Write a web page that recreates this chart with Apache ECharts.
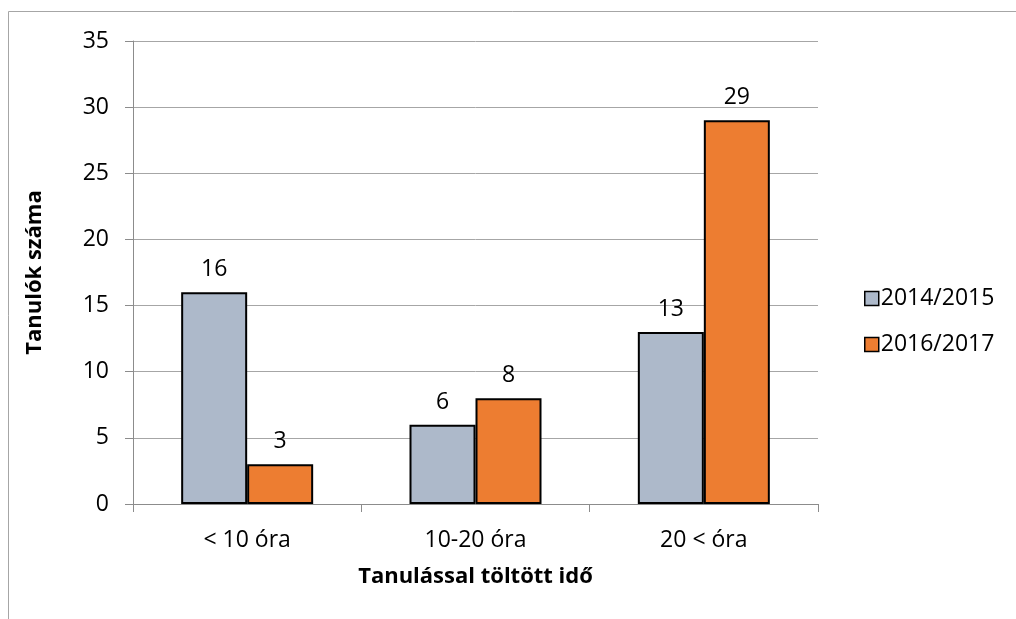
<!DOCTYPE html>
<html>
<head>
<meta charset="utf-8">
<script src="https://cdn.jsdelivr.net/npm/echarts@6/dist/echarts.min.js"></script>
<style>
  html, body { margin: 0; padding: 0; background: #fff; }
  #chart { width: 1016px; height: 619px; }
</style>
</head>
<body>
<div id="chart"></div>
<script>
// kategóriák és adatok
var categories = ['< 10 óra', '10-20 óra', '20 < óra'];
var seriesNames = ['2014/2015', '2016/2017'];
var values1415 = [16, 6, 13];
var values1617 = [3, 8, 29];
var colors = ['#adb9ca', '#ed7d31'];

var font = 'Open Sans';

var chart = echarts.init(document.getElementById('chart'));

var option = {
    animation: false,
    backgroundColor: '#fff',
    color: colors,
    textStyle: { fontFamily: font },
    graphic: [{
        type: 'rect',
        shape: { x: 8.5, y: 11.5, width: 1040, height: 640 },
        style: { fill: 'none', stroke: '#a6a6a6', lineWidth: 1 },
        silent: true
    }],
    grid: {
        left: 133,
        right: 198,
        top: 41,
        bottom: 115
    },
    legend: {
        orient: 'vertical',
        left: 859,
        top: 282,
        icon: 'rect',
        itemWidth: 14,
        itemHeight: 14,
        itemGap: 23,
        data: seriesNames,
        itemStyle: { borderColor: '#000', borderWidth: 1.5 },
        textStyle: { fontFamily: font, fontSize: 23, color: '#000', padding: [0, 0, 0, -3] }
    },
    xAxis: {
        type: 'category',
        data: categories,
        name: 'Tanulással töltött idő',
        nameLocation: 'middle',
        nameGap: 62,
        nameTextStyle: { fontFamily: font, fontSize: 22, fontWeight: 'bold', color: '#000' },
        axisLine: { lineStyle: { color: '#8c8c8c', width: 1 } },
        axisTick: { show: true, length: 8, lineStyle: { color: '#8c8c8c' } },
        axisLabel: { fontFamily: font, fontSize: 23, color: '#000', margin: 25 }
    },
    yAxis: {
        type: 'value',
        min: 0,
        max: 35,
        interval: 5,
        name: 'Tanulók száma',
        nameLocation: 'middle',
        nameGap: 87,
        nameTextStyle: { fontFamily: font, fontSize: 22, fontWeight: 'bold', color: '#000' },
        axisLine: { show: true, lineStyle: { color: '#8c8c8c', width: 1 } },
        axisTick: { show: true, length: 8, lineStyle: { color: '#8c8c8c' } },
        axisLabel: { fontFamily: font, fontSize: 23, color: '#000', margin: 24 },
        splitLine: { lineStyle: { color: '#a6a6a6', width: 1 } }
    },
    series: [{
        name: seriesNames[0],
        type: 'bar',
        data: values1415,
        barWidth: 66,
        barGap: '0%',
        itemStyle: { color: colors[0], borderColor: '#000', borderWidth: 2 },
        label: { show: true, position: 'top', distance: 11, fontFamily: font, fontSize: 23, color: '#000' }
    }, {
        name: seriesNames[1],
        type: 'bar',
        data: values1617,
        barWidth: 66,
        barGap: '0%',
        itemStyle: { color: colors[1], borderColor: '#000', borderWidth: 2 },
        label: { show: true, position: 'top', distance: 11, fontFamily: font, fontSize: 23, color: '#000' }
    }]
};

chart.setOption(option);
</script>
</body>
</html>
